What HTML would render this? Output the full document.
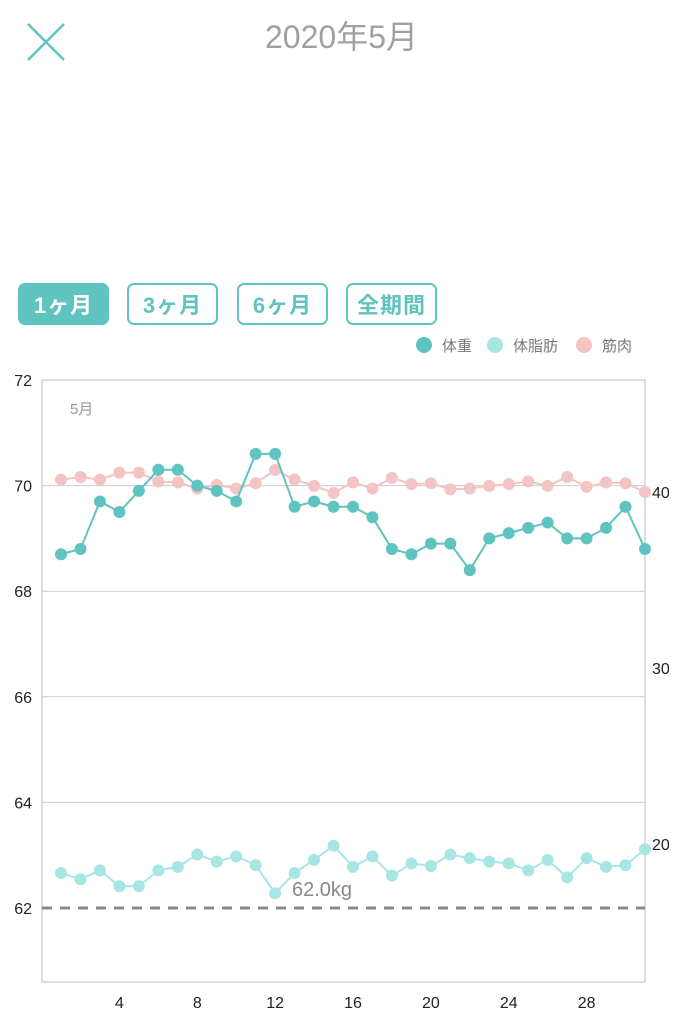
<!DOCTYPE html>
<html><head><meta charset="utf-8">
<style>
body{margin:0;width:683px;height:1024px;background:#fff;overflow:hidden;font-family:"Liberation Sans","Noto Sans CJK JP",sans-serif;position:relative}
.tab{position:absolute;top:283px;height:42px;border:2px solid #5fc4bf;border-radius:7px;box-sizing:border-box;color:#5fc4bf;font-size:22px;font-weight:bold;display:flex;align-items:center;justify-content:center;letter-spacing:1px}
</style></head><body>
<svg style="position:absolute;left:26px;top:22px" width="40" height="40"><path d="M2 2L38 38M38 2L2 38" stroke="#5fc4bf" stroke-width="2.5"/></svg>
<div style="position:absolute;left:0;width:683px;top:12px;text-align:center;font-size:32px;color:#a0a0a0">2020年5月</div>
<div class="tab" style="left:18px;width:91px;background:#5fc4bf;color:#fff">1ヶ月</div>
<div class="tab" style="left:127px;width:91px">3ヶ月</div>
<div class="tab" style="left:237px;width:91px">6ヶ月</div>
<div class="tab" style="left:346px;width:91px">全期間</div>
<svg id="chart" width="683" height="1024" style="position:absolute;left:0;top:0"></svg>
<script>
const days=[];for(let i=1;i<=31;i++)days.push(i);
const weight=[68.7,68.8,69.7,69.5,69.9,70.3,70.3,70.0,69.9,69.7,70.6,70.6,69.6,69.7,69.6,69.6,69.4,68.8,68.7,68.9,68.9,68.4,69.0,69.1,69.2,69.3,69.0,69.0,69.2,69.6,68.8];
const bodyFat=[18.35,18.0,18.5,17.6,17.6,18.5,18.7,19.4,19.0,19.3,18.8,17.2,18.35,19.1,19.9,18.7,19.3,18.2,18.9,18.75,19.4,19.2,19.0,18.9,18.5,19.1,18.1,19.2,18.7,18.8,19.7];
const muscle=[40.7,40.85,40.7,41.1,41.1,40.6,40.55,40.2,40.4,40.2,40.5,41.25,40.7,40.35,39.95,40.55,40.2,40.8,40.45,40.5,40.15,40.2,40.35,40.45,40.6,40.35,40.85,40.3,40.55,40.5,40.0];
const leftTicks=[62,64,66,68,70,72];
const rightTicks=[20,30,40];
const xTicks=[4,8,12,16,20,24,28];
const target=62.0;
const NS="http://www.w3.org/2000/svg",svg=document.getElementById('chart');
const X0=42,X1=645,Y0=380,Y1=982;
const x=d=>61+(d-1)*(645-61)/30;
const yL=v=>908-(v-62)*52.8;
const yR=v=>492-(v-40)*17.6;
function mk(t,a,p){const e=document.createElementNS(NS,t);for(const k in a)e.setAttribute(k,a[k]);(p||svg).appendChild(e);return e;}
let e=mk('rect',{x:X0,y:Y0,width:X1-X0,height:Y1-Y0,fill:'none',stroke:'#bbb','stroke-width':1});

leftTicks.forEach(v=>{
 if(v!==72&&v!==62){e=mk('line',{x1:X0,x2:X1,y1:yL(v),y2:yL(v),stroke:'#ccc'});}
 e=mk('text',{x:32,y:yL(v)+6,'text-anchor':'end','font-size':16,fill:'#222'});e.textContent=v;
 
});
rightTicks.forEach(v=>{e=mk('text',{x:652,y:yR(v)+6,'font-size':16,fill:'#222'});e.textContent=v;
 });
xTicks.forEach(d=>{e=mk('text',{x:x(d),y:1008,'text-anchor':'middle','font-size':16,fill:'#222'});e.textContent=d;
 });
e=mk('text',{x:70,y:414,'font-size':15,fill:'#999'});e.textContent='5月';

e=mk('line',{x1:X0,x2:X1,y1:yL(target),y2:yL(target),stroke:'#888','stroke-width':3,'stroke-dasharray':'10 8'});

e=mk('text',{x:292,y:896,'font-size':20,fill:'#888'});e.textContent=target.toFixed(1)+'kg';

function series(vals,fy,col,name){
 const g=mk('g',{});
 e=mk('polyline',{points:vals.map((v,i)=>x(days[i])+','+fy(v)).join(' '),fill:'none',stroke:col,'stroke-width':2},g);
 
 vals.forEach((v,i)=>{e=mk('circle',{cx:x(days[i]),cy:fy(v),r:6,fill:col},g);
  });
}
series(muscle,yR,'#f2c4c4','muscle');
series(bodyFat,yR,'#a8e6e4','body-fat');
series(weight,yL,'#5fc4bf','weight');
[['#5fc4bf','体重',424,442],['#a8e6e4','体脂肪',495,513],['#f2c4c4','筋肉',584,602]].forEach(l=>{
 const g=mk('g',{});
 mk('circle',{cx:l[2],cy:345,r:8,fill:l[0]},g);
 const t=mk('text',{x:l[3],y:351,'font-size':15,fill:'#777'},g);t.textContent=l[1];
});
</script>
</body></html>
